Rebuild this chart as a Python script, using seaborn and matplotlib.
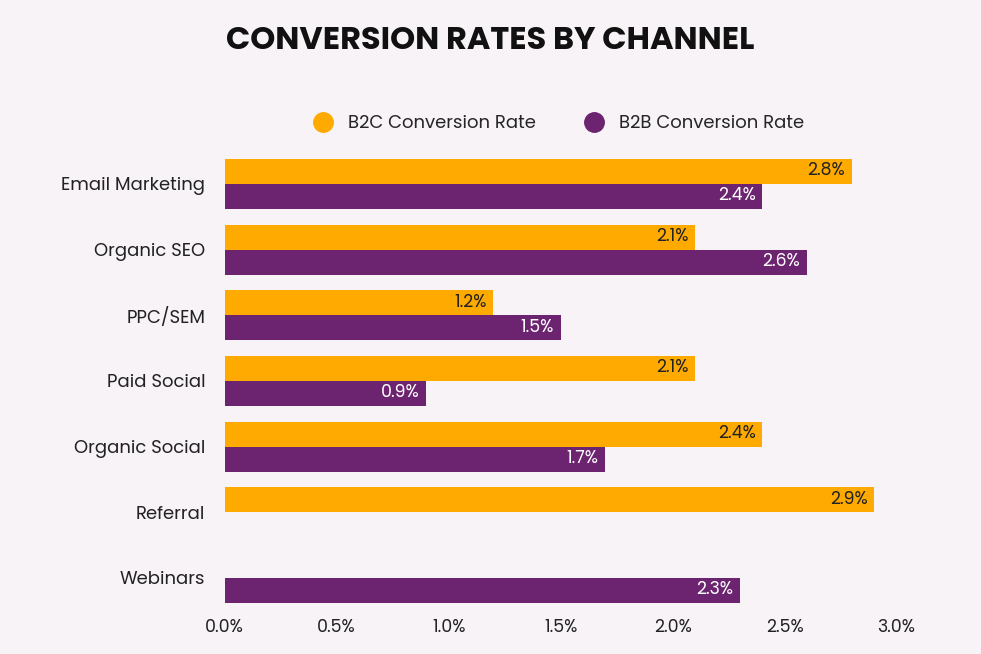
import numpy as np
import pandas as pd
import seaborn as sns
import matplotlib.pyplot as plt
from matplotlib.lines import Line2D

channels = ["Email Marketing", "Organic SEO", "PPC/SEM", "Paid Social",
            "Organic Social", "Referral", "Webinars"]
b2c = [2.8, 2.1, 1.2, 2.1, 2.4, 2.9, np.nan]
b2b = [2.4, 2.6, 1.5, 0.9, 1.7, np.nan, 2.3]
series = ["B2C Conversion Rate", "B2B Conversion Rate"]
colors = ["#FFAA00", "#6C2370"]

df = pd.DataFrame({
    "channel": channels * 2,
    "rate": b2c + b2b,
    "series": [series[0]] * len(channels) + [series[1]] * len(channels),
})

sns.set_theme(style="white")
plt.rcParams["font.family"] = ["Poppins", "Lato", "DejaVu Sans"]

fig = plt.figure(figsize=(9.81, 6.54), dpi=100, facecolor="#F8F3F7")
ax = fig.add_axes([0.229, 0.066, 0.685, 0.703])
ax.set_facecolor("none")

sns.barplot(data=df, y="channel", x="rate", hue="series", palette=colors,
            orient="h", width=0.76, ax=ax, legend=False, saturation=1, linewidth=0)

for cont, tc in zip(ax.containers, ["#222222", "white"]):
    for bar in cont:
        w = bar.get_width()
        if np.isnan(w) or w == 0:
            continue
        ax.text(w - 0.03, bar.get_y() + bar.get_height() / 2, f"{w:.1f}%",
                ha="right", va="center", color=tc, fontsize=12.5)

ax.set_xlim(0, 3.0)
ax.set_xticks(np.arange(0, 3.01, 0.5))
ax.set_xticklabels([f"{t:.1f}%" for t in np.arange(0, 3.01, 0.5)], fontsize=12.5, color="#222222")
ax.tick_params(axis="y", labelsize=13, colors="#222222", length=0, pad=14)
ax.tick_params(axis="x", length=0, pad=6)
ax.set_xlabel("")
ax.set_ylabel("")
sns.despine(ax=ax, left=True, bottom=True)

fig.text(0.5, 0.937, "CONVERSION RATES BY CHANNEL", ha="center", va="center",
         fontsize=23, fontweight="bold", color="#111111")

handles = [Line2D([], [], marker="o", linestyle="", markersize=14, color=c) for c in colors]
fig.legend(handles, series, loc="center", bbox_to_anchor=(0.565, 0.81), ncol=2,
           frameon=False, fontsize=13, handletextpad=0.4, columnspacing=2.2)

fig.savefig("out.png", dpi=100, facecolor=fig.get_facecolor())
